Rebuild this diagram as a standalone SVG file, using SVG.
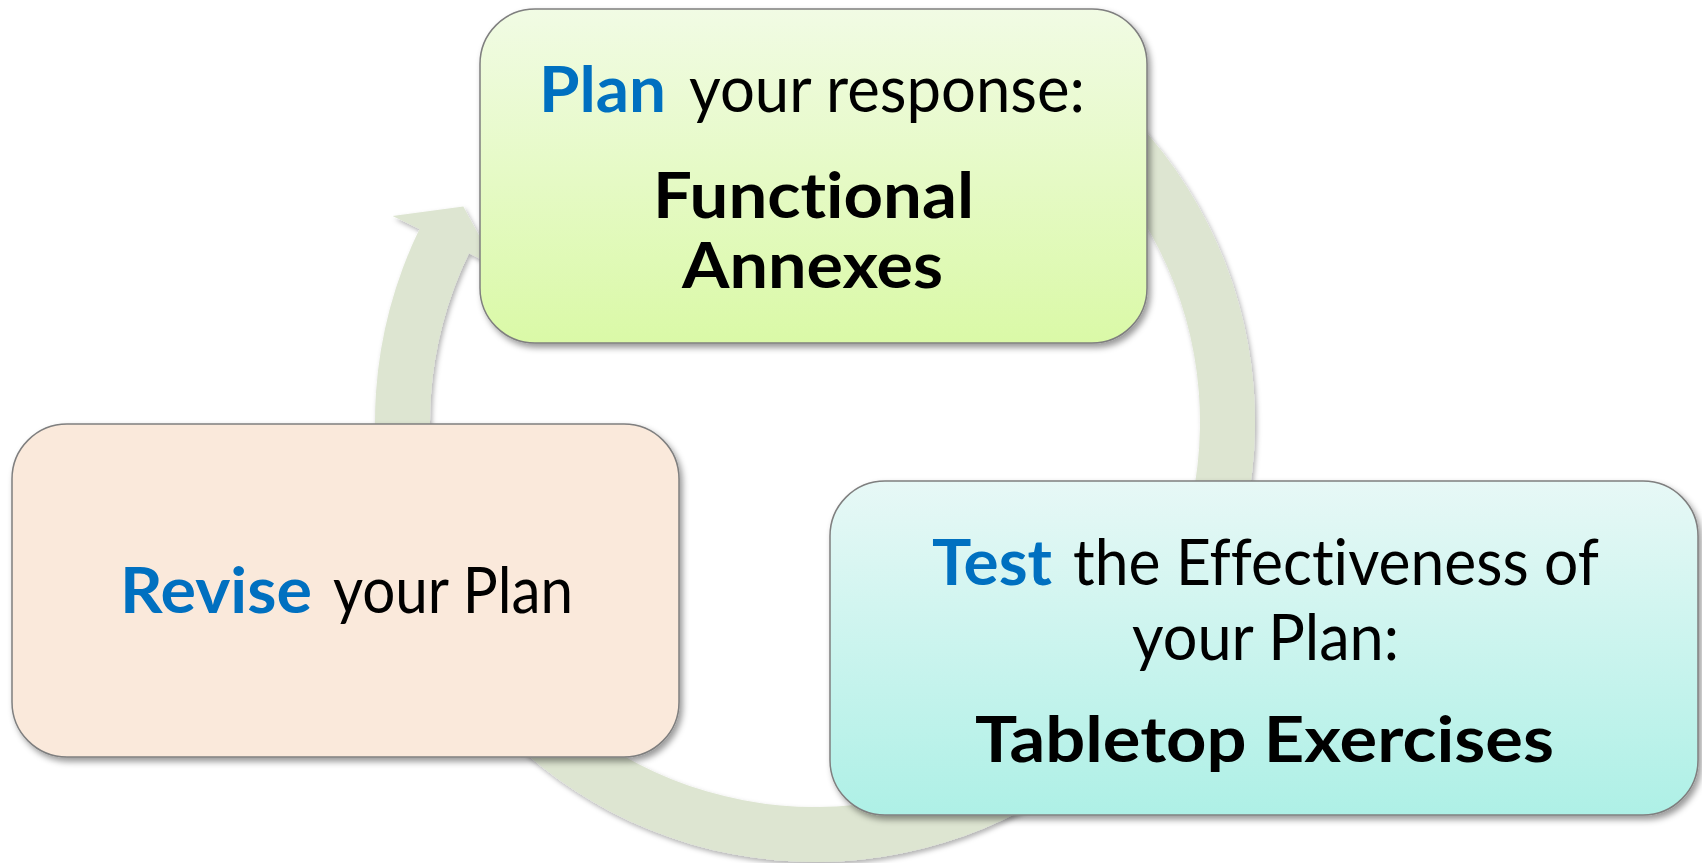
<svg xmlns="http://www.w3.org/2000/svg" width="1702" height="863" viewBox="0 0 1702 863">
<defs>
<linearGradient id="gTop" x1="0" y1="0" x2="0" y2="1"><stop offset="0" stop-color="#F1FBE4"/><stop offset="1" stop-color="#DAF9A7"/></linearGradient>
<linearGradient id="gRight" x1="0" y1="0" x2="0" y2="1"><stop offset="0" stop-color="#E7F8F6"/><stop offset="1" stop-color="#AEF0E6"/></linearGradient>
<filter id="sh" x="-10%" y="-10%" width="120%" height="125%"><feDropShadow dx="3" dy="4" stdDeviation="3" flood-color="#000" flood-opacity="0.4"/></filter>
<filter id="shA" x="-10%" y="-10%" width="120%" height="120%"><feDropShadow dx="2" dy="3" stdDeviation="2.5" flood-color="#000" flood-opacity="0.3"/></filter>
<style>
.box{stroke:#7F7F7F;stroke-width:1.5;filter:url(#sh)}
.t{font-family:Lato,"Liberation Sans",sans-serif;font-size:64px;fill:#000;font-variant-ligatures:none;font-feature-settings:"liga" 0,"clig" 0}
.b{font-weight:bold}
.blue{fill:#0070C0;font-weight:bold}
</style>
</defs>
<g id="connectors">
<path d="M1035,40.95 A440,440 0 1 1 419.53,229.12 L392.57,215.97 L463.3,206.5 L495.93,266.38 L468.96,253.23 A385,385 0 1 0 1007.5,88.58 Z" fill="#DDE5D1" filter="url(#shA)"/>
</g>
<g id="node-plan">
<rect class="box" x="480" y="9" width="667" height="334" rx="55" fill="url(#gTop)"/>
<text class="t blue" x="539" y="112" textLength="127" lengthAdjust="spacingAndGlyphs">Plan</text>
<text class="t" x="689" y="112" textLength="396" lengthAdjust="spacingAndGlyphs">your response:</text>
<text class="t b" x="653" y="218" textLength="321" lengthAdjust="spacingAndGlyphs">Functional</text>
<text class="t b" x="682" y="288" textLength="261" lengthAdjust="spacingAndGlyphs">Annexes</text>
</g>
<g id="node-revise">
<rect class="box" x="12" y="424" width="667" height="333" rx="55" fill="#FAE9DB"/>
<text class="t blue" x="120" y="613" textLength="192" lengthAdjust="spacingAndGlyphs">Revise</text>
<text class="t" x="333" y="613" textLength="240" lengthAdjust="spacingAndGlyphs">your Plan</text>
</g>
<g id="node-test">
<rect class="box" x="830" y="481" width="868" height="334" rx="55" fill="url(#gRight)"/>
<text class="t blue" x="932" y="585" textLength="120" lengthAdjust="spacingAndGlyphs">Test</text>
<text class="t" x="1073" y="585" textLength="526" lengthAdjust="spacingAndGlyphs">the Effectiveness of</text>
<text class="t" x="1132" y="660" textLength="267" lengthAdjust="spacingAndGlyphs">your Plan:</text>
<text class="t b" x="975" y="762" textLength="579" lengthAdjust="spacingAndGlyphs">Tabletop Exercises</text>
</g>
</svg>
